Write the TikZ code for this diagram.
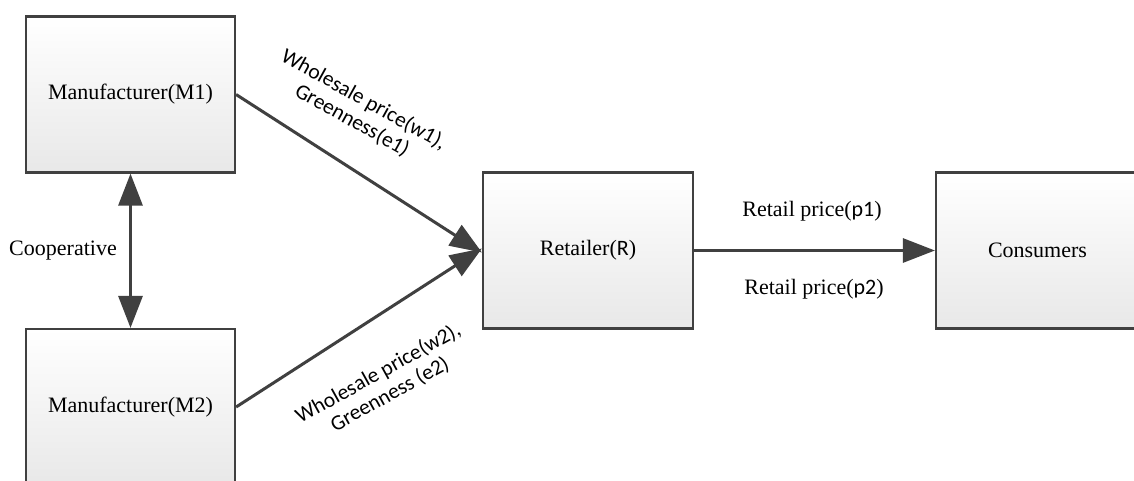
\documentclass[tikz,border=0pt]{standalone}
\usepackage{fontspec}
\setmainfont{Liberation Serif}
\newfontfamily\calib{Carlito}
\usetikzlibrary{arrows.meta}
\definecolor{edge}{HTML}{404040}
\tikzset{
  box/.style={draw=edge, line width=2.2pt, top color=white, bottom color=black!9,
    minimum width=209pt, minimum height=156pt, inner sep=0pt, font=\fontsize{22}{26}\selectfont},
  conn/.style={draw=edge, line width=3pt, -{Triangle[length=32pt,width=24pt]}},
  biconn/.style={draw=edge, line width=3pt, {Triangle[length=32pt,width=24pt]}-{Triangle[length=32pt,width=24pt]}},
  lbl/.style={font=\fontsize{22}{26}\selectfont, inner sep=0pt},
  slbl/.style={font=\calib\fontsize{21.5}{24}\selectfont, align=center, inner sep=0pt}
}
\begin{document}
\begin{tikzpicture}[x=1pt,y=-1pt]
\useasboundingbox (0,0) rectangle (1134,480);
\clip (0,0) rectangle (1134,480);
\fill[white] (0,0) rectangle (1134,480);
\node[box] (m1) at (130.5,94.5) {Manufacturer(M1)};
\node[box] (m2) at (130.5,407) {Manufacturer(M2)};
\node[box, minimum width=210pt] (r) at (588,250.5) {Retailer({\calib R})};
\node[box, minimum width=203pt] (c) at (1037.5,250.5) {Consumers};
\draw[biconn] (m1.south) -- (m2.north);
\draw[conn] (m1.east) -- ([yshift=-2pt]r.west);
\draw[conn] (m2.east) -- ([yshift=2pt]r.west);
\draw[conn] (r.east) -- (c.west);
\node[lbl] (coop) at (63,251) {Cooperative};
\node[lbl] (p1) at (812,211) {Retail price({\calib p1})};
\node[lbl] (p2) at (814,289) {Retail price({\calib p2})};
\node[slbl, rotate=-29] (l1) at (358,110) {Wholesale price(w1),\\Greenness(e1)};
\node[slbl, rotate=29] (l2) at (384,384) {Wholesale price(w2),\\Greenness (e2)};
\end{tikzpicture}
\end{document}
